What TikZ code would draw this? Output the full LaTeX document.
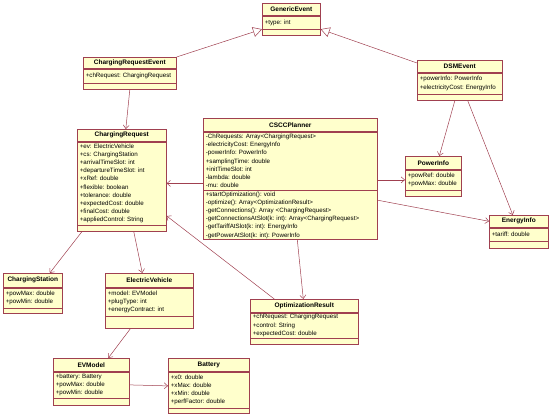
\documentclass[tikz,border=0pt]{standalone}
\usepackage{fontspec}
\setmainfont{Liberation Sans}
\usetikzlibrary{arrows.meta,positioning}
\definecolor{umlfill}{HTML}{FFFFCC}
\definecolor{umlline}{HTML}{A04050}
\frenchspacing

\begin{document}
\begin{tikzpicture}[
  x=1pt, y=-1pt,
  cname/.style={draw=umlline, line width=0.6pt, fill=umlfill, anchor=north west, inner sep=0pt, font=\bfseries\fontsize{6.5}{8}\selectfont},
  cattr/.style={draw=umlline, line width=0.6pt, fill=umlfill, inner xsep=2.5pt, inner ysep=0pt, align=left, font=\fontsize{6.2}{8.2}\selectfont},
  cops/.style={draw=umlline, line width=0.6pt, fill=umlfill, inner sep=0pt},
  assoc/.style={draw=umlline, line width=0.5pt, -{Straight Barb[length=3.5pt, width=6pt]}},
  gen/.style={draw=umlline, line width=0.5pt, -{Triangle[open, length=9pt, width=10pt, fill=white]}}
]
\useasboundingbox (0,0) rectangle (550,417);

% event classes
\node[cname, minimum width=58pt, minimum height=12pt] (ge) at (262,3) {GenericEvent};
\node[cattr, text width=53pt, minimum height=13pt, below=0pt of ge] (ge-a) {+type: int};
\node[cops, minimum width=58pt, minimum height=6pt, below=0pt of ge-a] (ge-o) {};

\node[cname, minimum width=93pt, minimum height=11pt] (cre) at (83,57) {ChargingRequestEvent};
\node[cattr, text width=88pt, minimum height=14pt, below=0pt of cre] (cre-a) {+chRequest: ChargingRequest};
\node[cops, minimum width=93pt, minimum height=6pt, below=0pt of cre-a] (cre-o) {};

\node[cname, minimum width=85pt, minimum height=12pt] (dsm) at (417,60) {DSMEvent};
\node[cattr, text width=80pt, minimum height=21pt, below=0pt of dsm] (dsm-a) {+powerInfo: PowerInfo\\+electricityCost: EnergyInfo};
\node[cops, minimum width=85pt, minimum height=6pt, below=0pt of dsm-a] (dsm-o) {};

% request and planner
\node[cname, minimum width=89pt, minimum height=12pt] (cr) at (77,129) {ChargingRequest};
\node[cattr, text width=84pt, minimum height=83pt, below=0pt of cr] (cr-a) {+ev: ElectricVehicle\\+cs: ChargingStation\\+arrivalTimeSlot: int\\+departureTimeSlot: int\\+xRef: double\\+flexible: boolean\\+tolerance: double\\+expectedCost: double\\+finalCost: double\\+appliedControl: String};
\node[cops, minimum width=89pt, minimum height=6pt, below=0pt of cr-a] (cr-o) {};

\node[cname, minimum width=174pt, minimum height=13pt] (pl) at (203,118) {CSCCPlanner};
\node[cattr, text width=169pt, minimum height=58pt, below=0pt of pl] (pl-a) {-ChRequests: Array<ChargingRequest>\\-electricityCost: EnergyInfo\\-powerInfo: PowerInfo\\+samplingTime: double\\+initTimeSlot: int\\-lambda: double\\-mu: double};
\node[cattr, text width=169pt, minimum height=49pt, below=0pt of pl-a] (pl-o) {+startOptimization(): void\\-optimize(): Array<OptimizationResult>\\-getConnections(): Array <ChargingRequest>\\-getConnectionsAtSlot(k: int): Array<ChargingRequest>\\-getTariffAtSlot(k: int): EnergyInfo\\-getPowerAtSlot(k: int): PowerInfo};

\node[cname, minimum width=56pt, minimum height=13pt] (pi) at (405,156) {PowerInfo};
\node[cattr, text width=51pt, minimum height=20pt, below=0pt of pi] (pi-a) {+powRef: double\\+powMax: double};
\node[cops, minimum width=56pt, minimum height=6pt, below=0pt of pi-a] (pi-o) {};

\node[cname, minimum width=59pt, minimum height=12pt] (ei) at (489,215) {EnergyInfo};
\node[cattr, text width=54pt, minimum height=13pt, below=0pt of ei] (ei-a) {+tariff: double};
\node[cops, minimum width=59pt, minimum height=7pt, below=0pt of ei-a] (ei-o) {};

% lower classes
\node[cname, minimum width=59pt, minimum height=14pt] (cs) at (3,273) {ChargingStation};
\node[cattr, text width=54pt, minimum height=20pt, below=0pt of cs] (cs-a) {+powMax: double\\+powMin: double};
\node[cops, minimum width=59pt, minimum height=5pt, below=0pt of cs-a] (cs-o) {};

\node[cname, minimum width=88pt, minimum height=14pt] (ev) at (105,273) {ElectricVehicle};
\node[cattr, text width=83pt, minimum height=28pt, below=0pt of ev] (ev-a) {+model: EVModel\\+plugType: int\\+energyContract: int};
\node[cops, minimum width=88pt, minimum height=12pt, below=0pt of ev-a] (ev-o) {};

\node[cname, minimum width=108pt, minimum height=13pt] (or) at (250,299) {OptimizationResult};
\node[cattr, text width=103pt, minimum height=25pt, below=0pt of or] (or-a) {+chRequest: ChargingRequest\\+control: String\\+expectedCost: double};
\node[cops, minimum width=108pt, minimum height=6pt, below=0pt of or-a] (or-o) {};

\node[cname, minimum width=76pt, minimum height=13pt] (evm) at (53,358) {EVModel};
\node[cattr, text width=71pt, minimum height=26pt, below=0pt of evm] (evm-a) {+battery: Battery\\+powMax: double\\+powMin: double};
\node[cops, minimum width=76pt, minimum height=7pt, below=0pt of evm-a] (evm-o) {};

\node[cname, minimum width=81pt, minimum height=13pt] (bat) at (168,358) {Battery};
\node[cattr, text width=76pt, minimum height=36pt, below=0pt of bat] (bat-a) {+x0: double\\+xMax: double\\+xMin: double\\+perfFactor: double};
\node[cops, minimum width=81pt, minimum height=5pt, below=0pt of bat-a] (bat-o) {};

% generalizations
\draw[gen] (cre.north east) -- (ge-a.south west);
\draw[gen] ([yshift=-3pt]dsm.north west) -- (ge-a.south east);

% associations
\draw[assoc] (cre-o.south) -- ([xshift=4pt]cr.north);
\draw[assoc] ([xshift=-5pt]dsm-o.south) -- ([xshift=6pt]pi.north);
\draw[assoc] ([xshift=8pt]dsm-o.south) -- ([xshift=-6pt]ei.north);
\draw[assoc] (pl-a.west |- cr-a.east) -- (cr-a.east);
\draw[assoc] (pl-a.east |- pi-a.west) -- (pi-a.west);
\draw[assoc] ([yshift=-10pt]pl-o.north east) -- (ei.west);
\draw[assoc] ([xshift=7pt]pl-o.south) -- ([xshift=-1pt]or.north);
\draw[assoc] ([xshift=-30pt]or.north) -- ([yshift=-32.5pt]cr-a.east);
\draw[assoc] ([xshift=-40pt]cr-o.south) -- ([xshift=17pt]cs.north);
\draw[assoc] ([xshift=12pt]cr-o.south) -- ([xshift=-7pt]ev.north);
\draw[assoc] ([xshift=-19pt]ev-o.south) -- ([xshift=17pt]evm.north);
\draw[assoc] (evm-a.east) -- ([yshift=4pt]bat-a.west);
\end{tikzpicture}
\end{document}
